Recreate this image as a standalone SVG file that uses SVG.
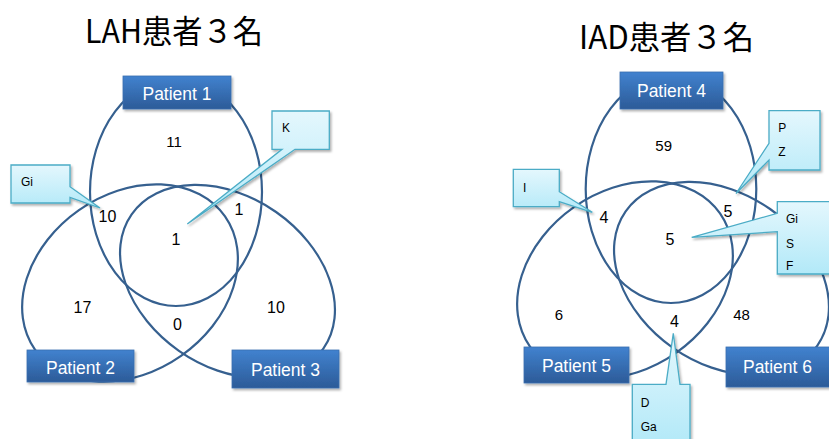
<svg xmlns="http://www.w3.org/2000/svg" width="829" height="439" viewBox="0 0 829 439">
<defs>
<linearGradient id="gBox" x1="0" y1="0" x2="0" y2="1">
<stop offset="0" stop-color="#4182cf"/>
<stop offset="1" stop-color="#2c5b98"/>
</linearGradient>
<linearGradient id="gCall" x1="0" y1="0" x2="0" y2="1">
<stop offset="0" stop-color="#e4f7fd"/>
<stop offset="1" stop-color="#b2e9f8"/>
</linearGradient>
<filter id="sh" x="-20%" y="-20%" width="140%" height="140%">
<feDropShadow dx="1.5" dy="2" stdDeviation="1.2" flood-color="#000" flood-opacity="0.3"/>
</filter>
<style>
.set{fill:none;stroke:#36608f;stroke-width:2.2}
.box{fill:url(#gBox);stroke:#3a6fb0;stroke-width:0.8;filter:url(#sh)}
.blab{font-family:"Liberation Sans",Arial,sans-serif;font-size:17.5px;fill:#fff;text-anchor:middle}
.num{font-family:"Liberation Sans",Arial,sans-serif;font-size:16px;fill:#000;text-anchor:middle}
.num.s{font-size:15px}
.call{fill:url(#gCall);stroke:#4bacc6;stroke-width:1.3;filter:url(#sh)}
.ctx{font-family:"Liberation Sans",Arial,sans-serif;font-size:12px;fill:#000}
.title{font-family:"Noto Sans CJK JP","Noto Sans CJK SC",sans-serif;font-size:32px;fill:#000}
</style>
</defs>
<rect width="829" height="439" fill="#fff"/>

<g id="title-lah"><text class="title" x="85" y="43" textLength="178" lengthAdjust="spacingAndGlyphs">LAH患者３名</text></g>
<g id="title-iad"><text class="title" x="579" y="48.5" textLength="175" lengthAdjust="spacingAndGlyphs">IAD患者３名</text></g>

<g id="patient1">
<ellipse class="set" cx="176" cy="192" rx="86" ry="114"/>
<rect class="box" x="123" y="76" width="108" height="33"/>
<text class="blab" x="177" y="100">Patient 1</text>
</g>
<g id="patient2">
<ellipse class="set" cx="130" cy="283" rx="116" ry="89" transform="rotate(-35 130 283)"/>
<rect class="box" x="27" y="350" width="107" height="32"/>
<text class="blab" x="80.5" y="374">Patient 2</text>
</g>
<g id="patient3">
<ellipse class="set" cx="227.5" cy="281.4" rx="117" ry="84.7" transform="rotate(35 227.5 281.4)"/>
<rect class="box" x="232" y="350" width="107" height="38"/>
<text class="blab" x="285.5" y="376">Patient 3</text>
</g>

<g id="patient4">
<ellipse class="set" cx="671" cy="189" rx="85.3" ry="114"/>
<rect class="box" x="620" y="72" width="103" height="37"/>
<text class="blab" x="671.5" y="97.3">Patient 4</text>
</g>
<g id="patient5">
<ellipse class="set" cx="130" cy="283" rx="116" ry="89" transform="translate(495 -3) rotate(-35 130 283)"/>
<rect class="box" x="524" y="347" width="105" height="36"/>
<text class="blab" x="576.5" y="372.3">Patient 5</text>
</g>
<g id="patient6">
<ellipse class="set" cx="227.5" cy="281.4" rx="117" ry="84.7" transform="translate(494 -3) rotate(35 227.5 281.4)"/>
<rect class="box" x="726" y="347" width="104" height="40"/>
<text class="blab" x="777.5" y="373">Patient 6</text>
</g>

<g id="counts">
<text class="num s" x="174" y="147">11</text>
<text class="num" x="107.5" y="221.5">10</text>
<text class="num" x="239" y="215">1</text>
<text class="num" x="176" y="245">1</text>
<text class="num" x="82.5" y="313">17</text>
<text class="num" x="177.5" y="330">0</text>
<text class="num" x="276" y="313">10</text>
<text class="num s" x="663.7" y="150.5">59</text>
<text class="num" x="604" y="223">4</text>
<text class="num" x="728" y="216.5">5</text>
<text class="num" x="670" y="245">5</text>
<text class="num s" x="559" y="320">6</text>
<text class="num" x="674.5" y="326.5">4</text>
<text class="num s" x="741.5" y="320">48</text>
</g>

<g id="callout-gi-lah">
<path class="call" d="M11,165 H70 V186.7 L100,208 L70,197.5 V203 H11 Z"/>
<text class="ctx" x="21" y="186">Gi</text>
</g>
<g id="callout-k">
<path class="call" d="M272,111 H329.3 V149.3 H295 L187.3,224 L282,149.3 H272 Z"/>
<text class="ctx" x="282" y="131.5">K</text>
</g>
<g id="callout-i">
<path class="call" d="M513.3,169.3 H559.3 V191.7 L592.3,212.3 L559.3,201.7 V206.7 H513.3 Z"/>
<text class="ctx" x="523" y="191.5">I</text>
</g>
<g id="callout-pz">
<path class="call" d="M769,110.7 H820 V170 H769 V160 L736,193.5 L769,143.3 Z"/>
<text class="ctx" x="778.3" y="131.7">P</text>
<text class="ctx" x="778.3" y="156">Z</text>
</g>
<g id="callout-gisf">
<path class="call" d="M777.3,201.7 H834 V274 H777.3 V231.7 L691.7,237.3 L777.3,213.3 Z"/>
<text class="ctx" x="786" y="223.3">Gi</text>
<text class="ctx" x="786" y="247.7">S</text>
<text class="ctx" x="786" y="270">F</text>
</g>
<g id="callout-dga">
<path class="call" d="M632.3,384.3 H666 L673.3,333.3 L680,384.3 H690 V445 H632.3 Z"/>
<text class="ctx" x="640.7" y="406.7">D</text>
<text class="ctx" x="640.7" y="430.7">Ga</text>
</g>
</svg>
